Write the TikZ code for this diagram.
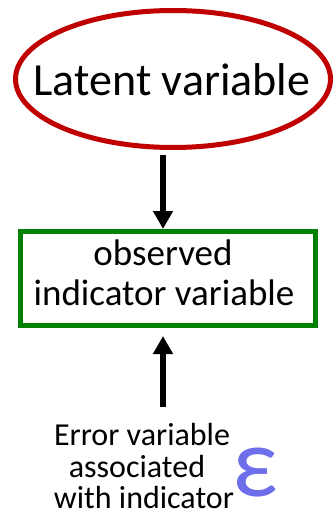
\documentclass[tikz,border=0pt]{standalone}
\usepackage{fontspec}
\setmainfont{Carlito}
\usetikzlibrary{shapes.geometric,arrows.meta}
\definecolor{latred}{RGB}{192,0,0}
\definecolor{obsgreen}{RGB}{0,128,0}
\definecolor{epsblue}{RGB}{110,110,235}
\tikzset{
  latent/.style={ellipse, draw=latred, line width=5pt, minimum width=315pt, minimum height=137pt, inner sep=0pt},
  observed/.style={rectangle, draw=obsgreen, line width=5pt, minimum width=295pt, minimum height=94pt, inner sep=0pt},
  bigarrow/.style={line width=5.5pt, -{Triangle[width=19pt,length=18pt]}},
  lbl/.style={anchor=base, inner sep=0pt}
}
\begin{document}
\begin{tikzpicture}[x=1pt,y=-1pt]
\useasboundingbox (0,0) rectangle (334,513);
\node[latent] (lat) at (173,79) {};
\node[lbl, font=\fontsize{46}{55}\selectfont] (lattext) at (172,96) {Latent variable};
\node[observed] (obs) at (168,278.5) {};
\node[lbl, font=\fontsize{37}{44}\selectfont] (obs1) at (163,265) {observed};
\node[lbl, font=\fontsize{37}{44}\selectfont] (obs2) at (164,305) {indicator variable};
\coordinate (a1s) at (163,155);
\coordinate (a1e) at (163,229);
\coordinate (a2s) at (163,407);
\coordinate (a2e) at (163,336);
\draw[bigarrow] (a1s) -- (a1e);
\draw[bigarrow] (a2s) -- (a2e);
\node[lbl, font=\fontsize{32}{38}\selectfont] (err1) at (142,445) {Error variable};
\node[lbl, font=\fontsize{32}{38}\selectfont] (err2) at (137,477) {associated};
\node[lbl, font=\fontsize{32}{38}\selectfont] (err3) at (144,508) {with indicator};
\node[lbl, font=\fontsize{100}{110}\selectfont, text=epsblue] (eps) at (255,496) {ε};
\end{tikzpicture}
\end{document}
